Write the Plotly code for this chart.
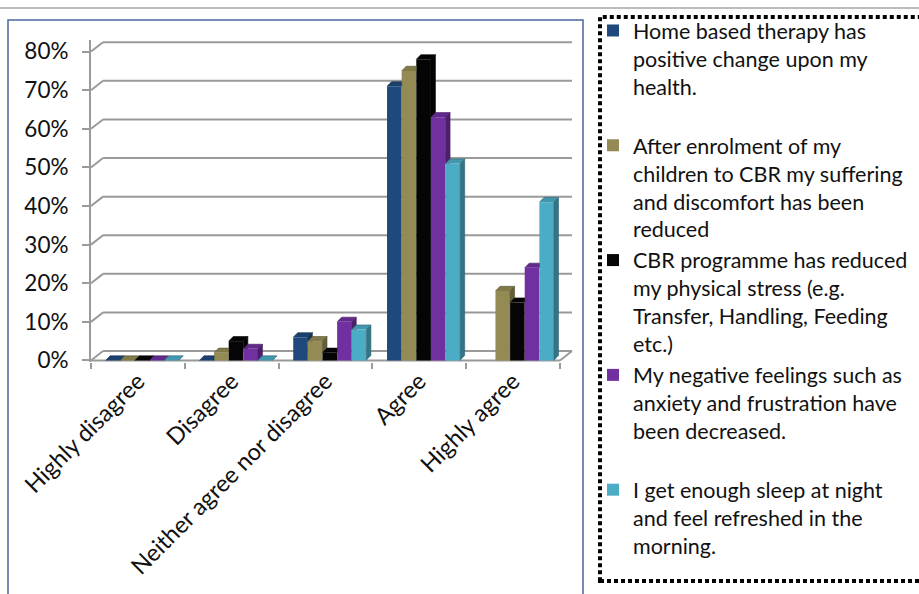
import plotly.graph_objects as go

# Survey categories and response shares (%) per statement
categories = ["Highly disagree", "Disagree", "Neither agree nor disagree", "Agree", "Highly agree"]
home_therapy = [0, 0, 6, 71, None]
enrolment = [0, 2, 5, 75, 18]
physical_stress = [0, 5, 2, 78, 15]
negative_feelings = [0, 3, 10, 63, 24]
sleep = [0, 0, 8, 51, 41]

series_names = [
    "Home based therapy has<br>positive change upon my<br>health.<br>\u00a0",
    "After enrolment of my<br>children to CBR my suffering<br>and discomfort has been<br>reduced",
    "CBR programme has reduced<br>my physical stress (e.g.<br>Transfer, Handling, Feeding<br>etc.)",
    "My negative feelings such as<br>anxiety and frustration have<br>been decreased.<br>\u00a0",
    "I get enough sleep at night<br>and feel refreshed in the<br>morning.",
]
series_values = [home_therapy, enrolment, physical_stress, negative_feelings, sleep]
colors = ["#1F497D", "#948A54", "#050505", "#7030A0", "#4BACC6"]

y_ticks = [0, 10, 20, 30, 40, 50, 60, 70, 80]
y_tick_text = [f"{v}%" for v in y_ticks]

# pseudo-3D geometry (axis units)
bar_w = 0.156          # bar width per series
group_shift = 0.046    # group offset to the right inside each category
bar_dx, bar_dy = 0.048, 1.2    # depth of each bar
wall_dx, wall_dy = 0.128, 2.43  # depth of the back wall
GRID = "#9a9a9a"
FONT = "Lato"


def shade(hex_color, k):
    h = hex_color.lstrip("#")
    r, g, b = (int(h[i:i + 2], 16) for i in (0, 2, 4))
    return "#%02x%02x%02x" % (int(r * k), int(g * k), int(b * k))


fig = go.Figure()

n = len(series_values)
for j, (name, vals, col) in enumerate(zip(series_names, series_values, colors)):
    xs = [i + group_shift + (j - (n - 1) / 2) * bar_w for i in range(len(categories))]
    fig.add_trace(go.Bar(
        x=xs, y=vals, width=bar_w, name=name,
        marker=dict(color=col, line=dict(width=0)),
        hoverinfo="skip",
    ))
    top_x, top_y, side_x, side_y = [], [], [], []
    for i, v in enumerate(vals):
        if v is None:
            continue
        nxt = series_values[j + 1][i] if j + 1 < n else None
        c = xs[i]
        L, R = c - bar_w / 2, c + bar_w / 2
        # top face, trimmed where the taller neighbour hides it
        if nxt is not None and nxt > v:
            top_x += [L, L + bar_dx, R, R, None]
            top_y += [v, v + bar_dy, v + bar_dy, v, None]
        else:
            top_x += [L, L + bar_dx, R + bar_dx, R, None]
            top_y += [v, v + bar_dy, v + bar_dy, v, None]
        # right side face, visible only above the neighbour's front face
        if v <= 0:
            continue
        b = nxt if (nxt is not None and nxt > 0) else 0
        if b >= v + bar_dy:
            continue
        if b >= v:
            t0 = (b - v) / bar_dy
            side_x += [R + t0 * bar_dx, R + bar_dx, R + bar_dx, None]
            side_y += [b, v + bar_dy, max(b, bar_dy), None]
        else:
            side_x += [R, R, R + bar_dx, R + bar_dx, None]
            side_y += [b, v, v + bar_dy, max(b, bar_dy), None]
    for fx, fy, k in ((side_x, side_y, 0.68), (top_x, top_y, 0.88)):
        if fx:
            fig.add_trace(go.Scatter(
                x=fx, y=fy, mode="lines", fill="toself",
                fillcolor=shade(col, k), line=dict(width=0.6, color=shade(col, 0.6)),
                showlegend=False, hoverinfo="skip",
            ))

shapes = []
n_cat = len(categories)
x_left, x_right = -0.5, n_cat - 0.5
# back-wall gridlines with their diagonal connectors to the front axis
for v in y_ticks:
    shapes.append(dict(type="line", xref="x", yref="y", x0=x_left, y0=v,
                       x1=x_left + wall_dx, y1=v + wall_dy,
                       line=dict(color=GRID, width=2), layer="below"))
    shapes.append(dict(type="line", xref="x", yref="y", x0=x_left + wall_dx, y0=v + wall_dy,
                       x1=x_right + wall_dx, y1=v + wall_dy,
                       line=dict(color=GRID, width=2), layer="below"))
# floor front edge and right edge
shapes.append(dict(type="line", xref="x", yref="y", x0=x_left, y0=0, x1=x_right, y1=0,
                   line=dict(color=GRID, width=2), layer="below"))
shapes.append(dict(type="line", xref="x", yref="y", x0=x_right, y0=0,
                   x1=x_right + wall_dx, y1=wall_dy,
                   line=dict(color=GRID, width=2), layer="below"))
# page rule, chart frame and dotted legend frame
shapes.append(dict(type="line", xref="paper", yref="paper", x0=0, x1=1,
                   y0=1 - 8 / 594, y1=1 - 8 / 594, line=dict(color="#a6a6a6", width=1.5)))
shapes.append(dict(type="rect", xref="paper", yref="paper", x0=8 / 919, x1=583 / 919,
                   y0=-0.05, y1=1 - 20 / 594, line=dict(color="#4a66a0", width=1.5)))
shapes.append(dict(type="rect", xref="paper", yref="paper", x0=600 / 919, x1=1.02,
                   y0=1 - 581 / 594, y1=1 - 17 / 594,
                   line=dict(color="#000000", width=4, dash="4px,3px")))

fig.update_layout(
    width=919, height=594,
    margin=dict(l=0, r=0, t=0, b=0, autoexpand=False),
    paper_bgcolor="white", plot_bgcolor="rgba(0,0,0,0)",
    barmode="overlay",
    font=dict(family=FONT, color="#111111"),
    shapes=shapes,
    showlegend=True,
    legend=dict(
        x=593 / 919, y=1 - 10 / 594, xanchor="left", yanchor="top",
        font=dict(family=FONT, size=21.5, color="#111111"),
        bgcolor="rgba(0,0,0,0)", borderwidth=0,
        traceorder="normal", valign="top",
    ),
    xaxis=dict(
        domain=[91 / 919, 575 / 919],
        range=[x_left, x_right + 0.16],
        tickvals=list(range(n_cat)), ticktext=categories,
        tickangle=-45, ticks="", showgrid=False, zeroline=False, showline=False,
        tickfont=dict(family=FONT, size=23.5, color="#111111"),
        minor=dict(tickvals=[k - 0.5 for k in range(n_cat + 1)], ticks="outside",
                   ticklen=6, tickwidth=2, tickcolor=GRID, showgrid=False),
        automargin=False,
        fixedrange=True,
    ),
    yaxis=dict(
        domain=[1 - 362 / 594, 1 - 40 / 594],
        range=[-0.4, 83],
        tickvals=y_ticks, ticktext=y_tick_text,
        ticks="outside", ticklen=7, tickwidth=2, tickcolor=GRID,
        showline=True, linecolor=GRID, linewidth=2,
        showgrid=False, zeroline=False,
        tickfont=dict(family=FONT, size=22.5, color="#111111"),
        ticklabelstandoff=9,
        automargin=False,
        fixedrange=True,
    ),
)

fig.write_html("out.html")
